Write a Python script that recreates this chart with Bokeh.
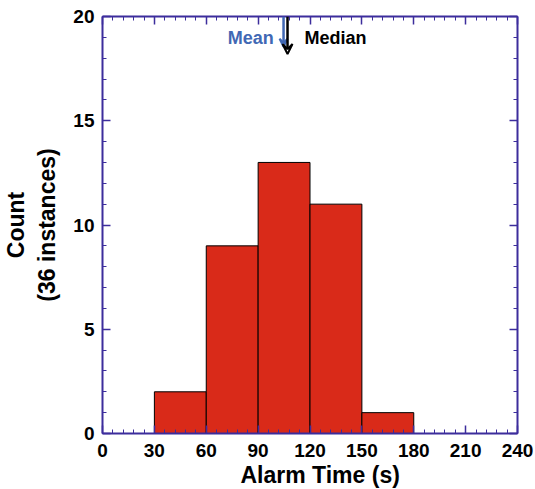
from bokeh.plotting import figure
from bokeh.models import (Range1d, SingleIntervalTicker, LinearAxis, CustomJSTickFormatter,
                          Arrow, VeeHead, Label, Title)
from bokeh.embed import file_html
from bokeh.resources import INLINE

# ---- data ----
bin_left = [30, 60, 90, 120, 150]
bin_right = [60, 90, 120, 150, 180]
counts = [2, 9, 13, 11, 1]
mean_time = 104.7
median_time = 107.0
x_tick_step = 30
y_tick_step = 5
x_title = "Alarm Time (s)"
y_title = "Count\n(36 instances)"

AXIS_COLOR = "#3c2d9c"
BAR_COLOR = "#d92a19"
MEAN_COLOR = "#4168b4"
FONT = "Liberation Sans"

p = figure(width=535, height=489, output_backend="svg", toolbar_location=None,
           x_range=Range1d(0, 240), y_range=Range1d(0, 20),
           min_border_left=100, min_border_right=18, min_border_top=16, min_border_bottom=56)
p.outline_line_color = None
p.grid.visible = False
p.background_fill_color = "white"


def style_axis(ax, labels=True):
    ax.axis_line_color = AXIS_COLOR
    ax.axis_line_width = 2
    ax.major_tick_line_color = AXIS_COLOR
    ax.minor_tick_line_color = AXIS_COLOR
    ax.major_tick_line_width = 1.5
    ax.minor_tick_line_width = 1
    ax.major_tick_in = 8
    ax.major_tick_out = 0
    ax.minor_tick_in = 4
    ax.minor_tick_out = 0
    ax.major_label_text_font = FONT
    ax.major_label_text_font_style = "bold"
    ax.major_label_text_font_size = "19px"
    ax.major_label_text_color = "black"
    ax.axis_label_text_font = FONT
    ax.axis_label_text_font_style = "bold"
    ax.axis_label_text_font_size = "23px"
    ax.axis_label_text_color = "black"
    if not labels:
        ax.formatter = CustomJSTickFormatter(code="return ''")
        ax.major_label_standoff = 0


p.xaxis.ticker = SingleIntervalTicker(interval=x_tick_step, num_minor_ticks=5)
p.yaxis.ticker = SingleIntervalTicker(interval=y_tick_step, num_minor_ticks=5)
style_axis(p.xaxis[0])
style_axis(p.yaxis[0])
p.yaxis.axis_label = y_title
p.xaxis.major_label_standoff = 10
p.yaxis.major_label_standoff = 8
p.yaxis.axis_label_standoff = 10

top_ax = LinearAxis(ticker=SingleIntervalTicker(interval=x_tick_step, num_minor_ticks=5))
style_axis(top_ax, labels=False)
p.add_layout(top_ax, "above")
right_ax = LinearAxis(ticker=SingleIntervalTicker(interval=y_tick_step, num_minor_ticks=5))
style_axis(right_ax, labels=False)
p.add_layout(right_ax, "right")

# x-axis title (slightly right of centre, as in the original)
p.add_layout(Title(text=x_title, align="left", offset=138, standoff=0,
                   text_font=FONT, text_font_style="bold", text_font_size="23px",
                   text_color="black"), "below")

p.quad(left=bin_left, right=bin_right, bottom=0, top=counts,
       fill_color=BAR_COLOR, line_color="black", line_width=1)

# mean / median arrows
p.add_layout(Arrow(end=VeeHead(size=8, line_color=MEAN_COLOR, line_width=2, fill_color=None),
                   x_start=mean_time, y_start=20, x_end=mean_time, y_end=18.55,
                   line_color=MEAN_COLOR, line_width=2.5))
p.add_layout(Arrow(end=VeeHead(size=10, line_color="black", line_width=2, fill_color=None),
                   x_start=median_time, y_start=20, x_end=median_time, y_end=18.2,
                   line_color="black", line_width=2.5))

p.add_layout(Label(x=99.0, y=18.98, text="Mean", text_align="right", text_baseline="middle",
                   text_font=FONT, text_font_style="bold", text_font_size="18px", text_color=MEAN_COLOR))
p.add_layout(Label(x=116.8, y=18.98, text="Median", text_align="left", text_baseline="middle",
                   text_font=FONT, text_font_style="bold", text_font_size="18px", text_color="black"))

open("out.html", "w").write(file_html(p, INLINE))
